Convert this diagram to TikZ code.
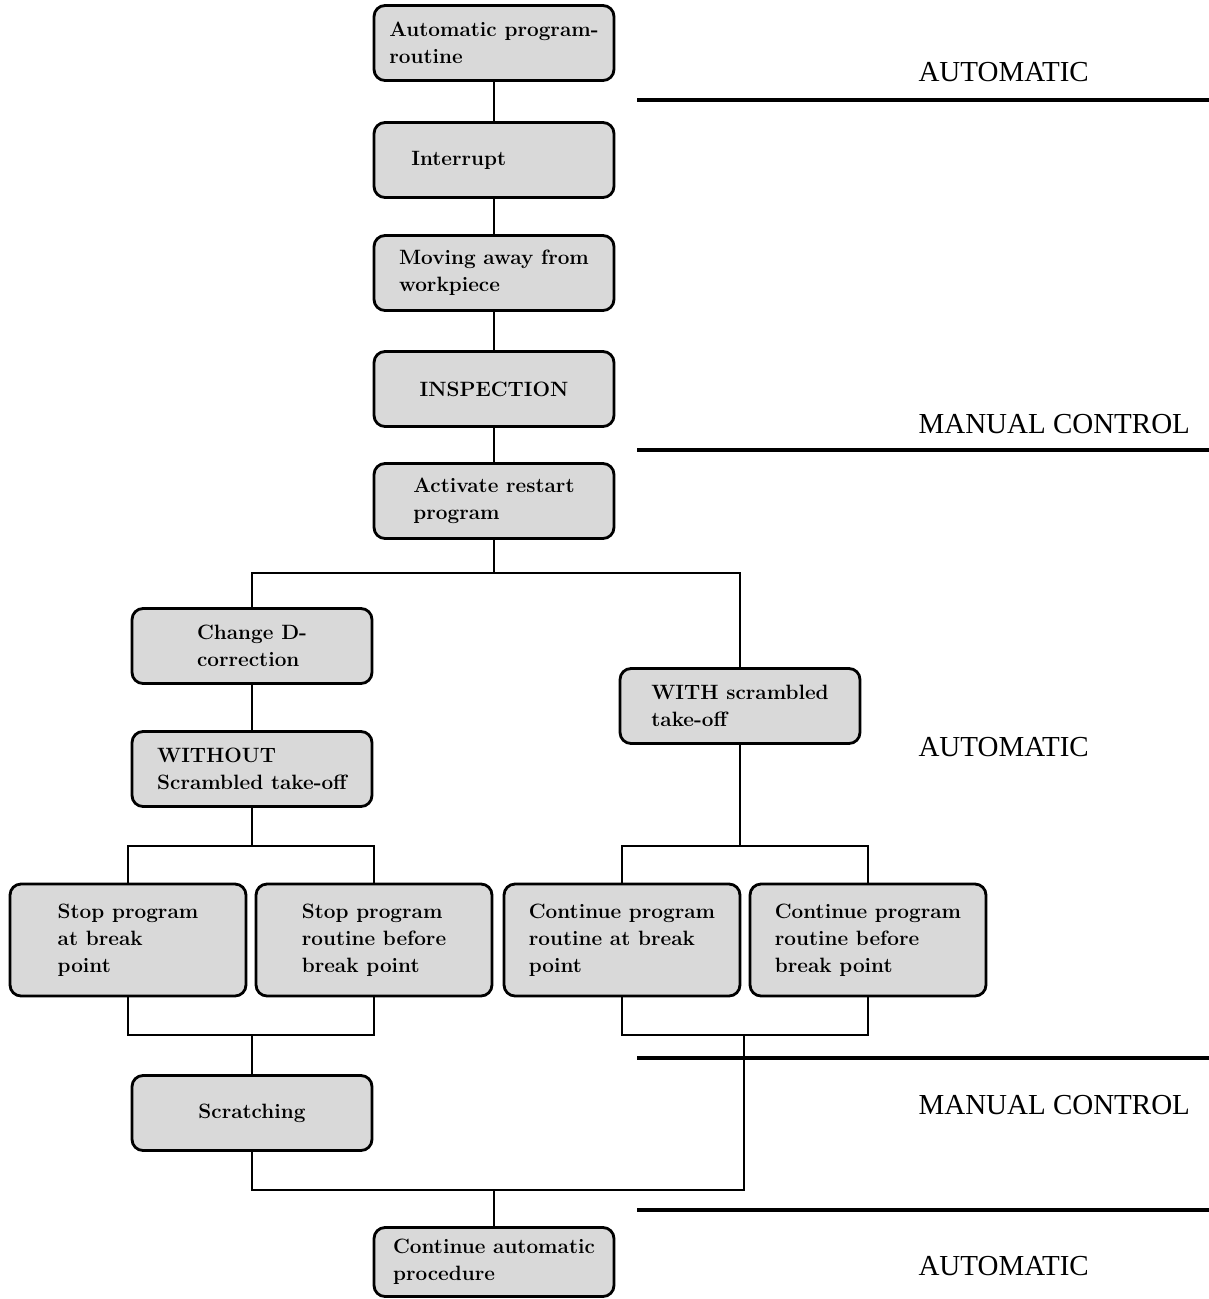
\documentclass[tikz,border=0pt]{standalone}
\usepackage{fontspec}
\newfontfamily\labelfont{Liberation Serif}
\usepackage{tikz}

\begin{document}
\begin{tikzpicture}[x=0.02cm, y=-0.02cm,
	thick,box/.style={rectangle,rounded corners=0.22cm,draw,line width=1.6pt,fill=black!15,
		minimum width=4.8cm,minimum height=1.5cm,align=left,
		font=\bfseries\fontsize{11.8}{15.4}\selectfont},
	wide box/.style={box,minimum width=4.72cm,minimum height=2.24cm},
	link/.style={line width=1.1pt},
	rule/.style={line width=2.2pt},
	mode/.style={anchor=west,font=\labelfont\fontsize{16.5}{19}\selectfont}]
	
	\useasboundingbox (0,0) rectangle (1209,1299);
	
	\node[box] (auto) at (494,43) {Automatic program-\\routine\hspace{4.4em}};
	\node[box] (intr) at (494,160) {Interrupt\hspace{3.4em}};
	\node[box] (away) at (494,273) {Moving away from\\workpiece};
	\node[box] (insp) at (494,389) {INSPECTION};
	\node[box] (restart) at (494,501) {Activate restart\\program};
	
	\node[box] (dcorr) at (252,646) {Change D-\\correction};
	\node[box] (without) at (252,769) {WITHOUT\\Scrambled take-off};
	\node[box] (with) at (740,706) {WITH scrambled\\take-off};
	
	\node[wide box] (stopa) at (128,940) {Stop program\\at break\\point};
	\node[wide box] (stopb) at (374,940) {Stop program\\routine before\\break point};
	\node[wide box] (conta) at (622,940) {Continue program\\routine at break\\point};
	\node[wide box] (contb) at (868,940) {Continue program\\routine before\\break point};
	
	\node[box] (scratch) at (252,1113) {Scratching};
	\node[box,minimum height=1.38cm] (final) at (494,1262) {Continue automatic\\procedure\hspace{4.7em}};
	
	% branch and join points
	\coordinate (split) at (494,573);
	\coordinate (lsplit) at (252,846);
	\coordinate (rsplit) at (740,846);
	\coordinate (ljoin) at (252,1035);
	\coordinate (rjoin) at (744,1035);
	\coordinate (merge) at (494,1190);
	
	\draw[link] (auto) -- (intr);
	\draw[link] (intr) -- (away);
	\draw[link] (away) -- (insp);
	\draw[link] (insp) -- (restart);
	\draw[link] (restart) -- (split);
	\draw[link] (split) -| (dcorr);
	\draw[link] (split) -| (with);
	\draw[link] (dcorr) -- (without);
	\draw[link] (without) -- (lsplit);
	\draw[link] (lsplit) -| (stopa);
	\draw[link] (lsplit) -| (stopb);
	\draw[link] (with) -- (rsplit);
	\draw[link] (rsplit) -| (conta);
	\draw[link] (rsplit) -| (contb);
	\draw[link] (stopa) |- (ljoin);
	\draw[link] (stopb) |- (ljoin);
	\draw[link] (ljoin) -- (scratch);
	\draw[link] (conta) |- (rjoin);
	\draw[link] (contb) |- (rjoin);
	\draw[link] (rjoin) |- (merge);
	\draw[link] (scratch) |- (merge);
	\draw[link] (merge) -- (final);
	
	% mode bands on the right
	\node[mode] (m1) at (912,72) {AUTOMATIC};
	\draw[rule] (637,100) -- (1209,100);
	\node[mode] (m2) at (912,424) {MANUAL CONTROL};
	\draw[rule] (637,450) -- (1209,450);
	\node[mode] (m3) at (912,747) {AUTOMATIC};
	\draw[rule] (637,1058) -- (1209,1058);
	\node[mode] (m4) at (912,1105) {MANUAL CONTROL};
	\draw[rule] (637,1210) -- (1209,1210);
	\node[mode] (m5) at (912,1266) {AUTOMATIC};
	
\end{tikzpicture}
\end{document}
